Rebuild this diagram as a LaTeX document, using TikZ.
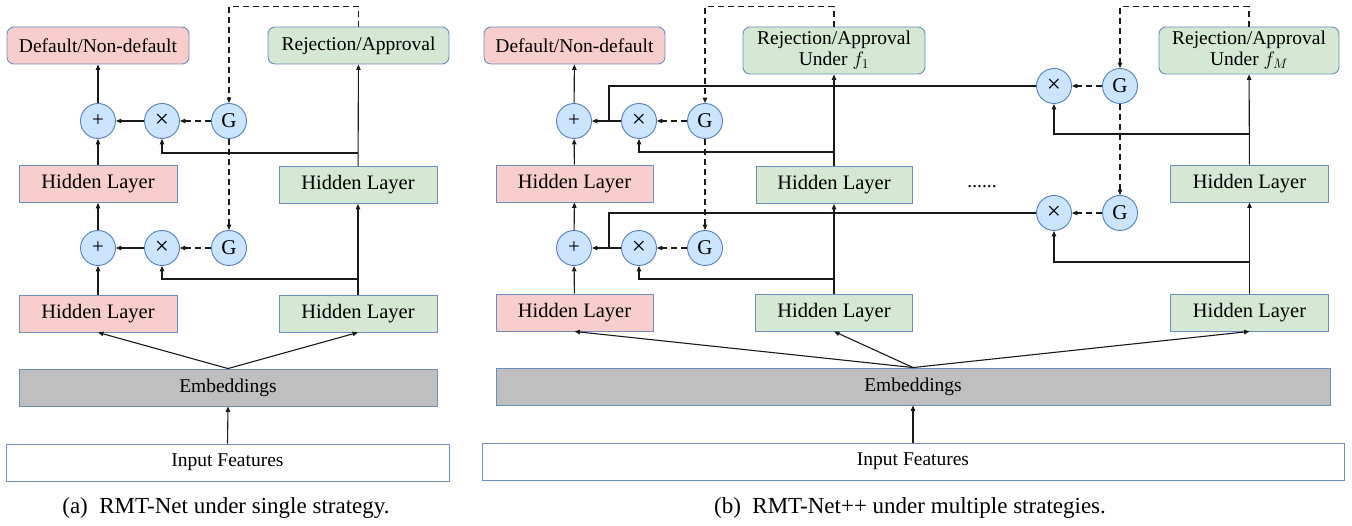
\RequirePackage{fix-cm}
\documentclass[tikz,border=0pt]{standalone}
\usepackage{fontspec}
\setmainfont{Liberation Serif}
\usetikzlibrary{arrows.meta,positioning,calc}
\definecolor{pinkf}{HTML}{F8CECC}
\definecolor{greenf}{HTML}{D5E8D4}
\definecolor{grayf}{HTML}{BFBFBF}
\definecolor{bordc}{HTML}{6C8EBF}
\definecolor{circf}{HTML}{CCE5FF}
\definecolor{circb}{HTML}{4F7FBF}
\definecolor{linec}{HTML}{1A1A1A}
\newcommand{\fsz}{\fontsize{19.5}{22}\selectfont}
\newcommand{\fhz}{\fontsize{20.5}{24}\selectfont}
\newcommand{\fcz}{\fontsize{23}{26}\selectfont}
\newcommand{\mulsym}{{\fontsize{25}{25}\selectfont ×}}
\begin{document}
\begin{tikzpicture}[x=1pt,y=-1pt,
  box/.style={draw=bordc,line width=0.9pt,inner sep=0pt,align=center,font=\fsz},
  outbox/.style={box,rounded corners=7pt,minimum height=37pt},
  hid/.style={box,minimum width=158pt,minimum height=37pt,font=\fhz},
  pinkbox/.style={fill=pinkf},
  greenbox/.style={fill=greenf},
  opc/.style={circle,draw=circb,fill=circf,line width=0.9pt,minimum size=35pt,inner sep=0pt,font=\fontsize{21}{22}\selectfont},
  arr/.style={draw=linec,line width=1.1pt,-{Triangle[length=5.5pt,width=4.5pt]}},
  ln/.style={draw=linec,line width=1.1pt},
  darr/.style={arr,dash pattern=on 6pt off 4pt},
  dln/.style={ln,dash pattern=on 6pt off 4pt}]
\useasboundingbox (0,0) rectangle (1352,526);

% ---------------- panel (a) ----------------
\node[outbox,pinkbox,minimum width=182pt] (defA) at (98,45.5) {Default/Non-default};
\node[outbox,greenbox,minimum width=181pt] (rejA) at (358.5,45.5) {Rejection/Approval};
\node[opc] (plusA1) at (98,121) {+};
\node[opc] (multA1) at (162,121) {\mulsym};
\node[opc] (gA1) at (229,121) {G};
\node[hid,pinkbox] (hidPA2) at (98,184) {Hidden Layer};
\node[hid,greenbox] (hidGA2) at (358,185) {Hidden Layer};
\node[opc] (plusA0) at (98,248) {+};
\node[opc] (multA0) at (162,248) {\mulsym};
\node[opc] (gA0) at (229,248) {G};
\node[hid,pinkbox] (hidPA1) at (98,313.5) {Hidden Layer};
\node[hid,greenbox] (hidGA1) at (358,313.5) {Hidden Layer};
\node[box,fill=grayf,minimum width=418pt,minimum height=37pt] (embA) at (228,387.5) {Embeddings};
\node[box,fill=white,minimum width=443pt,minimum height=37pt] (inA) at (227.5,462.5) {Input Features};
\node[font=\fcz] (capA) at (226,508) {(a)\enspace RMT-Net under single strategy.};

\coordinate (brA1) at (358,153);
\coordinate (brA0) at (358,279);

\draw[arr] (inA.north) -- (embA.south);
\draw[arr] (embA.north) -- (hidPA1.south);
\draw[arr] (embA.north) -- (hidGA1.south);
\draw[arr] (hidPA1) -- (plusA0);
\draw[arr] (plusA0) -- (hidPA2);
\draw[arr] (hidPA2) -- (plusA1);
\draw[arr] (plusA1) -- (defA);
\draw[arr] (multA0) -- (plusA0);
\draw[arr] (multA1) -- (plusA1);
\draw[darr] (gA0) -- (multA0);
\draw[darr] (gA1) -- (multA1);
\draw[arr] (hidGA1) -- (hidGA2);
\draw[arr] (hidGA2) -- (rejA);
\draw[arr] (brA0) -| (multA0.south);
\draw[arr] (brA1) -| (multA1.south);
\draw[darr] (rejA.north) -- ++(0,-20) -| (gA1.north);
\draw[darr] (gA1) -- (gA0);

% ---------------- panel (b) ----------------
\node[outbox,pinkbox,minimum width=181pt] (defB) at (574.5,45.5) {Default/Non-default};
\node[outbox,greenbox,minimum width=182pt,minimum height=47pt] (rejB1) at (834,50.5) {Rejection/Approval\\[-1pt]Under $f_1$};
\node[outbox,greenbox,minimum width=180pt,minimum height=47pt] (rejBM) at (1249,50.5) {Rejection/Approval\\[-1pt]Under $f_M$};
\node[opc] (plusB1) at (574,121) {+};
\node[opc] (multB1) at (639,121) {\mulsym};
\node[opc] (gB1) at (705,121) {G};
\node[opc] (xM1) at (1054,86) {\mulsym};
\node[opc] (gM1) at (1120,86) {G};
\node[hid,pinkbox,minimum width=157pt] (hidPB2) at (574.5,183.5) {Hidden Layer};
\node[hid,greenbox,minimum width=156pt] (hidGB2) at (834,185) {Hidden Layer};
\node[hid,greenbox] (hidMB2) at (1249.5,183.5) {Hidden Layer};
\node[font=\fsz] (dots) at (982,187) {......};
\node[opc] (xM0) at (1054,213) {\mulsym};
\node[opc] (gM0) at (1120,213) {G};
\node[opc] (plusB0) at (574,248) {+};
\node[opc] (multB0) at (639,248) {\mulsym};
\node[opc] (gB0) at (705,248) {G};
\node[hid,pinkbox,minimum width=157pt] (hidPB1) at (574.5,312.5) {Hidden Layer};
\node[hid,greenbox,minimum width=157pt] (hidGB1) at (834,312.5) {Hidden Layer};
\node[hid,greenbox] (hidMB1) at (1249.5,312.5) {Hidden Layer};
\node[box,fill=grayf,minimum width=834pt,minimum height=37pt] (embB) at (913,386.5) {Embeddings};
\node[box,fill=white,minimum width=862pt,minimum height=37pt] (inB) at (913,461.5) {Input Features};
\node[font=\fcz] (capB) at (910,508) {(b)\enspace RMT-Net++ under multiple strategies.};

\coordinate (brB1) at (834,152);
\coordinate (brB0) at (834,279);
\coordinate (brM1) at (1249.5,134);
\coordinate (brM0) at (1249.5,262);
\coordinate (jB1) at (609,121);
\coordinate (jB0) at (609,248);

\draw[arr] (inB.north) -- (embB.south);
\draw[arr] (embB.north) -- (hidPB1.south);
\draw[arr] (embB.north) -- (hidGB1.south);
\draw[arr] (embB.north) -- (hidMB1.south);
\draw[arr] (hidPB1) -- (plusB0);
\draw[arr] (plusB0) -- (hidPB2);
\draw[arr] (hidPB2) -- (plusB1);
\draw[arr] (plusB1) -- (defB);
\draw[arr] (multB0) -- (plusB0);
\draw[arr] (multB1) -- (plusB1);
\draw[darr] (gB0) -- (multB0);
\draw[darr] (gB1) -- (multB1);
\draw[arr] (hidGB1) -- (hidGB2);
\draw[arr] (hidGB2) -- (rejB1);
\draw[arr] (brB0) -| (multB0.south);
\draw[arr] (brB1) -| (multB1.south);
\draw[darr] (rejB1.north) -- ++(0,-20) -| (gB1.north);
\draw[darr] (gB1) -- (gB0);

\draw[arr] (hidMB1) -- (hidMB2);
\draw[arr] (hidMB2) -- (rejBM);
\draw[arr] (brM0) -| (xM0.south);
\draw[arr] (brM1) -| (xM1.south);
\draw[darr] (gM1) -- (xM1);
\draw[darr] (gM0) -- (xM0);
\draw[darr] (rejBM.north) -- ++(0,-20) -| (gM1.north);
\draw[darr] (gM1) -- (gM0);
\draw[ln] (xM1.west) -| (jB1);
\draw[ln] (xM0.west) -| (jB0);
\end{tikzpicture}
\end{document}
